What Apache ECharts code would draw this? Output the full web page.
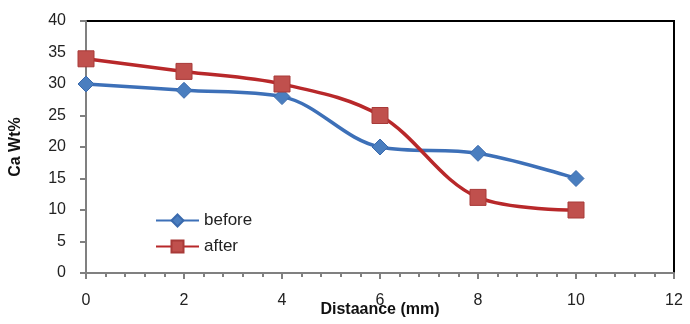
<!DOCTYPE html>
<html><head><meta charset="utf-8">
<script src="https://cdn.jsdelivr.net/npm/echarts@6/dist/echarts.min.js"></script>
<style>html,body{margin:0;padding:0;background:#fff}#c{width:690px;height:324px}</style>
</head><body><div id="c"></div>
<script>
const distance = [0, 2, 4, 6, 8, 10];
const before = [30, 29, 28, 20, 19, 15];
const after = [34, 32, 30, 25, 12, 10];
const xTitle = 'Distaance (mm)';
const yTitle = 'Ca Wt%';
const FONT = '"Liberation Sans", "DejaVu Sans", sans-serif';

const chart = echarts.init(document.getElementById('c'));
chart.setOption({
  animation: false,
  backgroundColor: '#fff',
  textStyle: {fontFamily: FONT},
  grid: {left: 86, right: 16, top: 21, bottom: 51, show: true, borderColor: '#000', borderWidth: 2, containLabel: false, outerBoundsMode: 'none'},
  legend: {
    orient: 'vertical', left: 150, top: 207, itemGap: 9,
    itemWidth: 43, itemHeight: 15,
    textStyle: {fontSize: 17, color: '#222', fontFamily: FONT},
    data: ['before', 'after']
  },
  xAxis: {
    type: 'value', min: 0, max: 12, interval: 2,
    name: xTitle, nameLocation: 'middle', nameGap: 29, nameMoveOverlap: false,
    nameTextStyle: {fontWeight: 'bold', fontSize: 16, color: '#111'},
    axisLine: {show: true, lineStyle: {color: '#808080', width: 2}},
    axisTick: {show: true, inside: false, length: 6, lineStyle: {color: '#808080', width: 2}},
    minorTick: {show: true, splitNumber: 5, length: 4, lineStyle: {color: '#808080', width: 2}},
    axisLabel: {fontSize: 16, color: '#222', margin: 20},
    splitLine: {show: false}
  },
  yAxis: {
    type: 'value', min: 0, max: 40, interval: 5,
    name: yTitle, nameLocation: 'middle', nameGap: 62, nameRotate: 90, nameMoveOverlap: false,
    nameTextStyle: {fontWeight: 'bold', fontSize: 16, color: '#111'},
    axisLine: {show: true, lineStyle: {color: '#808080', width: 2}},
    axisTick: {show: true, inside: false, length: 6, lineStyle: {color: '#808080', width: 2}},
    axisLabel: {fontSize: 16, color: '#222', margin: 20},
    splitLine: {show: false}
  },
  series: [
    {
      name: 'before', type: 'line', smooth: 0.35,
      data: distance.map((d, i) => [d, before[i]]),
      symbol: 'diamond', symbolSize: 16,
      lineStyle: {color: '#3d70b8', width: 3.5},
      itemStyle: {color: '#4a7ebf', borderColor: '#3a6aad', borderWidth: 1}
    },
    {
      name: 'after', type: 'line', smooth: 0.35,
      data: distance.map((d, i) => [d, after[i]]),
      symbol: 'rect', symbolSize: 16,
      lineStyle: {color: '#b8282a', width: 3.5},
      itemStyle: {color: '#c0504d', borderColor: '#a83a38', borderWidth: 1}
    }
  ]
});
</script></body></html>
